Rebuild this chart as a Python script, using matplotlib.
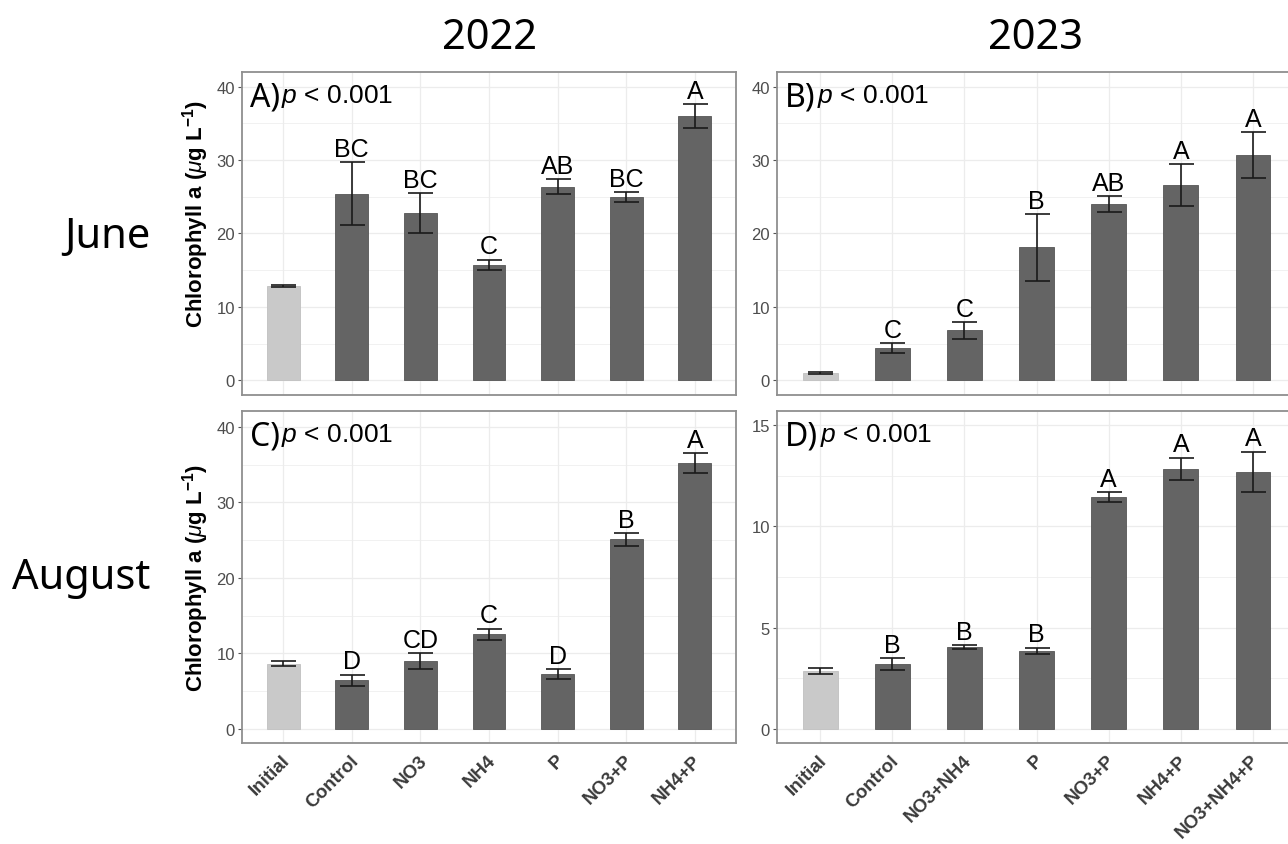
import matplotlib
matplotlib.use('Agg')
import matplotlib.pyplot as plt
import matplotlib.transforms as mtransforms
import numpy as np

# fonts
plt.rcParams['font.family'] = ['Liberation Sans', 'DejaVu Sans']
plt.rcParams['mathtext.fontset'] = 'custom'
plt.rcParams['mathtext.rm'] = 'Liberation Sans'
plt.rcParams['mathtext.bf'] = 'Liberation Sans:bold'
plt.rcParams['mathtext.it'] = 'Liberation Sans:italic'

# treatments
treat_2022 = ['Initial', 'Control', 'NO3', 'NH4', 'P', 'NO3+P', 'NH4+P']
treat_2023 = ['Initial', 'Control', 'NO3+NH4', 'P', 'NO3+P', 'NH4+P', 'NO3+NH4+P']

# June 2022 (A)
june_2022_mean = [12.9, 25.4, 22.8, 15.7, 26.4, 25.0, 36.0]
june_2022_se = [0.15, 4.3, 2.7, 0.73, 1.0, 0.65, 1.6]
june_2022_letters = ['', 'BC', 'BC', 'C', 'AB', 'BC', 'A']

# June 2023 (B)
june_2023_mean = [1.0, 4.4, 6.8, 18.1, 24.0, 26.6, 30.7]
june_2023_se = [0.1, 0.65, 1.13, 4.55, 1.05, 2.9, 3.15]
june_2023_letters = ['', 'C', 'C', 'B', 'AB', 'A', 'A']

# August 2022 (C)
aug_2022_mean = [8.6, 6.4, 8.95, 12.5, 7.25, 25.1, 35.2]
aug_2022_se = [0.35, 0.75, 1.1, 0.77, 0.65, 0.85, 1.3]
aug_2022_letters = ['', 'D', 'CD', 'C', 'D', 'B', 'A']

# August 2023 (D)
aug_2023_mean = [2.85, 3.2, 4.02, 3.86, 11.45, 12.85, 12.7]
aug_2023_se = [0.15, 0.28, 0.1, 0.15, 0.24, 0.55, 1.0]
aug_2023_letters = ['', 'B', 'B', 'B', 'A', 'A', 'A']

panel_tags = ['A)', 'B)', 'C)', 'D)']

LIGHT = '#c9c9c9'
DARK = '#646464'
GRID = '#ececec'
BORDER = '#8f8f8f'


def draw_panel(ax, labels, mean, se, letters, tag, ylim, yticks, minor, show_x, ylab_y=None):
    x = np.arange(1, len(labels) + 1)
    colors = [LIGHT] + [DARK] * (len(labels) - 1)
    edges = ['#c0c0c0'] + ['#555555'] * (len(labels) - 1)
    ax.set_axisbelow(True)
    ax.bar(x, mean, width=0.48, color=colors, edgecolor=edges, linewidth=0.6, zorder=2)
    ax.errorbar(x, mean, yerr=se, fmt='none', ecolor='#1a1a1a', elinewidth=1.2,
                capsize=9, capthick=1.2, zorder=3)
    for xi, m, s, lab in zip(x, mean, se, letters):
        if lab:
            ax.annotate(lab, (xi, m + s), xytext=(0, 4.5), textcoords='offset points',
                        ha='center', va='baseline', fontsize=18, color='black', zorder=4)

    ax.set_xlim(0.4, len(labels) + 0.6)
    ax.set_ylim(*ylim)
    ax.set_yticks(yticks)
    ax.set_yticks(minor, minor=True)
    ax.set_xticks(x)
    ax.grid(True, which='major', color=GRID, linewidth=0.9)
    ax.grid(True, which='minor', axis='y', color=GRID, linewidth=0.5)
    ax.tick_params(axis='y', which='major', labelsize=12, labelcolor='#4d4d4d',
                   color='#555555', length=3, width=0.8, pad=2)
    ax.tick_params(axis='y', which='minor', length=0)
    ax.tick_params(axis='x', length=0)
    if show_x:
        ax.set_xticklabels(labels, rotation=45, ha='right', va='top', fontsize=13.5,
                           fontweight='bold', color='#3a3a3a')
        ax.tick_params(axis='x', pad=6)
        shift = mtransforms.ScaledTranslation(10 / 100, 0, ax.figure.dpi_scale_trans)
        for lbl in ax.get_xticklabels():
            lbl.set_transform(lbl.get_transform() + shift)
    else:
        ax.set_xticklabels([])
    for sp in ax.spines.values():
        sp.set_color(BORDER)
        sp.set_linewidth(1.3)

    if ylab_y is not None:
        ax.set_ylabel(r'$\mathbf{Chlorophyll\ a\ (}\mathit{\mu}\mathbf{g\ L^{-1})}$',
                      fontsize=16)
        ax.yaxis.set_label_coords(-0.062, ylab_y)

    # panel tag and p-value
    t = ax.text(0.016, 0.975, tag, transform=ax.transAxes, fontsize=23,
                ha='left', va='top', family='Noto Sans')
    ax.annotate(r'$\mathit{p}$ < 0.001', xy=(1, 0), xycoords=t, xytext=(1, 3),
                textcoords='offset points', ha='left', va='bottom', fontsize=19)


fig = plt.figure(figsize=(12.88, 8.45), dpi=100)

ax_a = fig.add_axes([0.1879, 0.5314, 0.3835, 0.3822])
ax_b = fig.add_axes([0.6033, 0.5314, 0.4030, 0.3822])
ax_c = fig.add_axes([0.1879, 0.1195, 0.3835, 0.3929])
ax_d = fig.add_axes([0.6033, 0.1195, 0.4030, 0.3929])

draw_panel(ax_a, treat_2022, june_2022_mean, june_2022_se, june_2022_letters, panel_tags[0],
           (-2, 42), [0, 10, 20, 30, 40], [5, 15, 25, 35], False, 0.565)
draw_panel(ax_b, treat_2023, june_2023_mean, june_2023_se, june_2023_letters, panel_tags[1],
           (-2, 42), [0, 10, 20, 30, 40], [5, 15, 25, 35], False)
draw_panel(ax_c, treat_2022, aug_2022_mean, aug_2022_se, aug_2022_letters, panel_tags[2],
           (-1.9, 42.1), [0, 10, 20, 30, 40], [5, 15, 25, 35], True, 0.5)
draw_panel(ax_d, treat_2023, aug_2023_mean, aug_2023_se, aug_2023_letters, panel_tags[3],
           (-0.7, 15.7), [0, 5, 10, 15], [2.5, 7.5, 12.5], True)

# column and row headers
fig.text(489 / 1288, 1 - 38 / 845, '2022', ha='center', va='center', fontsize=30, family='Noto Sans')
fig.text(1036 / 1288, 1 - 38 / 845, '2023', ha='center', va='center', fontsize=30, family='Noto Sans')
fig.text(150 / 1288, 1 - 237 / 845, 'June', ha='right', va='center', fontsize=30, family='Noto Sans')
fig.text(150 / 1288, 1 - 578 / 845, 'August', ha='right', va='center', fontsize=30, family='Noto Sans')

plt.savefig('out.png', dpi=100)
